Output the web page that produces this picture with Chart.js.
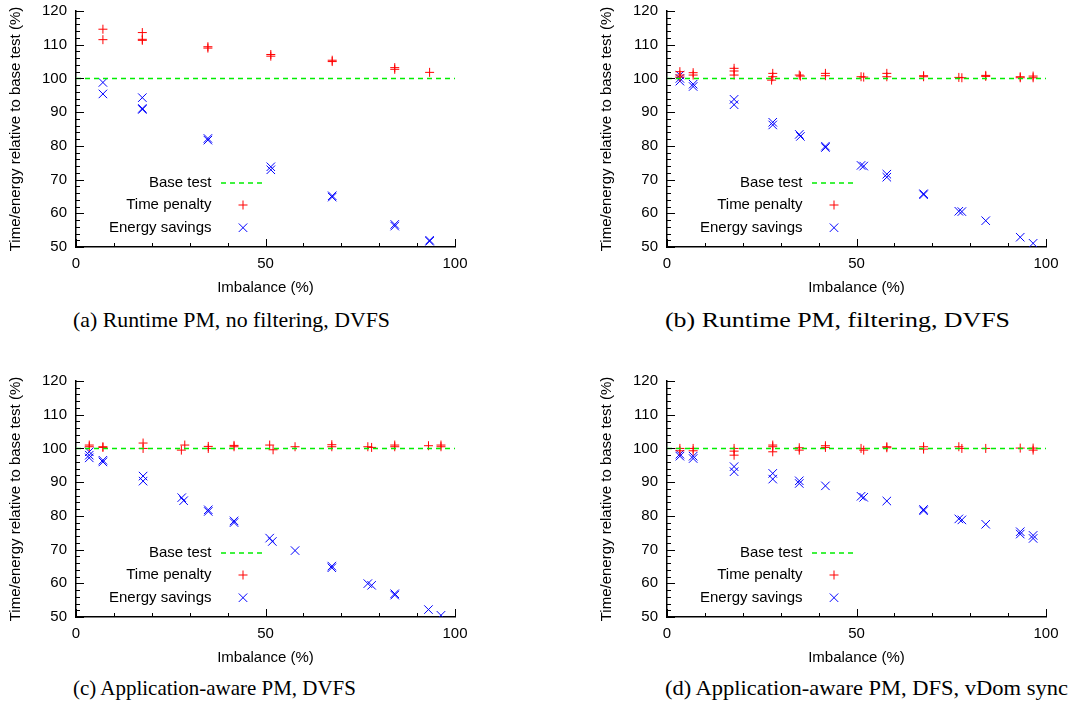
<!DOCTYPE html>
<html>
<head>
<meta charset="utf-8">
<script src="https://cdn.jsdelivr.net/npm/chart.js@4.4.1/dist/chart.umd.min.js"></script>
<style>
    html, body { margin: 0; padding: 0; background: #fff; }
    body { width: 1081px; height: 705px; position: relative; overflow: hidden; }
    .panel { position: absolute; width: 480px; height: 300px; }
    .caption {
        position: absolute;
        font-family: "Liberation Serif", "DejaVu Serif", serif;
        font-size: 21px;
        color: #000;
        white-space: nowrap;
        transform-origin: left center;
        line-height: 24px;
    }
</style>
</head>
<body>

<div class="panel" style="left:0px; top:0px;"><canvas id="chartA"></canvas></div>
<div class="panel" style="left:591px; top:0px;"><canvas id="chartB"></canvas></div>
<div class="panel" style="left:0px; top:370px;"><canvas id="chartC"></canvas></div>
<div class="panel" style="left:591px; top:370px;"><canvas id="chartD"></canvas></div>

<div class="caption" id="capA" style="left:73px; top:308px;"></div>
<div class="caption" id="capB" style="left:665px; top:308px;"></div>
<div class="caption" id="capC" style="left:73px; top:676px;"></div>
<div class="caption" id="capD" style="left:665px; top:676px;"></div>

<script>
// values: [imbalance %, value %]
const timeA = [[7.1, 114.6], [7.1, 111.5], [17.5, 113.6], [17.5, 111.6], [17.5, 111.3], [34.8, 109.4], [34.8, 109.0],
    [51.4, 107.1], [51.4, 106.6], [67.6, 105.4], [67.6, 105.0], [84.1, 103.2], [84.1, 102.7], [93.3, 101.8]];
const energyA = [[7.1, 98.8], [7.1, 95.4], [17.5, 94.3], [17.5, 91.1], [17.5, 90.8], [34.8, 82.2], [34.8, 81.7],
    [51.4, 73.8], [51.4, 72.9], [67.6, 65.2], [67.6, 64.8], [84.1, 56.7], [84.1, 56.2], [93.3, 52.0], [93.3, 51.7]];

const timeB = [[3.4, 102.0], [3.4, 101.0], [3.4, 100.4], [6.9, 101.7], [6.9, 101.0], [17.7, 103.0], [17.7, 102.2], [17.7, 101.0],
    [27.9, 101.5], [27.9, 100.5], [27.6, 99.5], [34.9, 101.0], [35.2, 100.7], [41.8, 101.5], [41.8, 100.8], [51.2, 100.5],
    [51.9, 100.4], [58.0, 101.5], [58.0, 100.5], [67.7, 100.8], [67.7, 100.5], [77.0, 100.3], [77.8, 100.2], [84.1, 100.9],
    [84.1, 100.6], [93.2, 100.5], [93.2, 100.2], [96.6, 100.7], [96.6, 100.2]];
const energyB = [[3.4, 101.0], [3.4, 100.0], [3.4, 99.2], [6.9, 98.3], [6.9, 97.6], [17.7, 93.8], [17.7, 92.2], [27.9, 87.0],
    [27.9, 86.2], [34.9, 83.4], [35.2, 82.8], [41.8, 79.9], [41.8, 79.5], [51.2, 74.2], [51.9, 74.0], [58.0, 71.6], [58.0, 70.7],
    [67.7, 65.8], [67.7, 65.5], [77.0, 60.6], [77.8, 60.5], [84.1, 57.8], [93.2, 52.9], [96.6, 51.1]];

const timeC = [[3.5, 101.0], [3.5, 100.5], [7.1, 100.5], [7.1, 100.3], [17.7, 101.6], [17.7, 100.0], [27.8, 99.5], [28.7, 101.0],
    [34.9, 100.6], [34.9, 100.0], [41.7, 100.9], [41.7, 100.5], [51.1, 101.0], [52.0, 99.6], [57.8, 100.5], [67.5, 101.1],
    [67.5, 100.5], [77.0, 100.5], [78.0, 100.3], [84.1, 101.0], [84.1, 100.5], [93.0, 100.8], [96.3, 101.0], [96.3, 100.5]];
const energyC = [[3.5, 99.0], [3.5, 98.0], [3.5, 97.2], [7.1, 96.5], [7.1, 96.0], [17.7, 91.8], [17.7, 90.3], [27.9, 85.4],
    [28.4, 84.5], [34.9, 81.8], [34.9, 81.3], [41.7, 78.5], [41.7, 78.0], [51.1, 73.4], [51.8, 72.4], [57.8, 69.7], [67.5, 65.1],
    [67.5, 64.6], [77.0, 59.9], [78.0, 59.4], [84.1, 56.9], [84.1, 56.5], [93.0, 52.2], [96.3, 50.5]];

const timeD = [[3.4, 100.0], [3.4, 99.3], [6.9, 100.0], [6.9, 99.3], [17.7, 100.0], [17.7, 99.2], [17.7, 98.0], [27.9, 101.0],
    [27.9, 100.5], [27.9, 99.0], [34.9, 100.2], [34.9, 99.5], [41.8, 100.8], [41.8, 100.3], [51.2, 100.0], [51.9, 99.5],
    [58.0, 100.5], [58.0, 100.2], [67.7, 100.5], [67.7, 99.8], [77.0, 100.5], [77.8, 100.0], [84.1, 100.0], [93.2, 100.1],
    [96.6, 100.1], [96.6, 99.5]];
const energyD = [[3.4, 98.3], [3.4, 97.7], [6.9, 97.7], [6.9, 97.0], [17.7, 94.6], [17.7, 93.1], [27.9, 92.6], [27.9, 90.9],
    [34.9, 90.4], [34.9, 89.6], [41.8, 88.9], [51.2, 85.8], [51.9, 85.5], [58.0, 84.4], [67.7, 81.9], [67.7, 81.5], [77.0, 79.1],
    [77.8, 78.8], [84.1, 77.5], [93.2, 75.3], [93.2, 74.6], [96.6, 74.2], [96.6, 73.3]];

const baseLine = [[0, 100], [100, 100]];
const seriesLabels = ['Base test', 'Time penalty', 'Energy savings'];
const seriesColors = ['#00ee00', '#ff0000', '#0000ff'];
const captions = ['(a) Runtime PM, no filtering, DVFS', '(b) Runtime PM, filtering, DVFS',
    '(c) Application-aware PM, DVFS', '(d) Application-aware PM, DFS, vDom sync'];
const captionWidths = [317, 345, 283, 403];

const sansFont = '"Liberation Sans", Arial, Helvetica, sans-serif';
const dash = [5, 4];

const toPts = arr => arr.map(p => ({ x: p[0], y: p[1] }));

// gnuplot style ticks, pointing into the plot
const innerTicks = {
    id: 'innerTicks',
    afterDraw(chart) {
        const { ctx } = chart;
        const xs = chart.scales.x, ys = chart.scales.y;
        ctx.save();
        ctx.strokeStyle = '#000';
        ctx.lineWidth = 1;
        ctx.beginPath();
        for (let v = 50; v <= 120; v += 2) {
            const py = Math.round(ys.getPixelForValue(v)) + 0.5;
            const len = v % 10 === 0 ? 8 : 4;
            ctx.moveTo(xs.left, py);
            ctx.lineTo(xs.left + len, py);
        }
        for (let v = 0; v <= 100; v += 10) {
            const px = Math.round(xs.getPixelForValue(v)) + 0.5;
            const len = v % 50 === 0 ? 8 : 4;
            ctx.moveTo(px, ys.bottom);
            ctx.lineTo(px, ys.bottom - len);
        }
        ctx.stroke();
        ctx.restore();
    }
};

// legend drawn inside the plot area, text right aligned, sample on the right
const innerLegend = {
    id: 'innerLegend',
    afterDatasetsDraw(chart) {
        const { ctx, chartArea } = chart;
        const rows = [171.7, 194, 216.7];
        const styles = [null, 'cross', 'crossRot'];
        const radii = [0, 4.5, 6];
        ctx.save();
        ctx.font = '15px ' + sansFont;
        ctx.textAlign = 'right';
        ctx.textBaseline = 'middle';
        seriesLabels.forEach((label, i) => {
            const y = chartArea.top + rows[i];
            ctx.fillStyle = '#000';
            ctx.fillText(label, chartArea.left + 135.5, y);
            ctx.strokeStyle = seriesColors[i];
            ctx.lineWidth = 1;
            if (i === 0) {
                ctx.lineWidth = 1.5;
                ctx.setLineDash(dash);
                ctx.beginPath();
                ctx.moveTo(chartArea.left + 145, Math.round(y));
                ctx.lineTo(chartArea.left + 190, Math.round(y));
                ctx.stroke();
                ctx.setLineDash([]);
            } else {
                Chart.helpers.drawPoint(ctx, {
                    pointStyle: styles[i], radius: radii[i], borderWidth: 1, rotation: 0
                }, chartArea.left + 167, y);
            }
        });
        ctx.restore();
    }
};

function makeChart(id, timeData, energyData) {
    return new Chart(document.getElementById(id), {
        type: 'scatter',
        plugins: [innerTicks, innerLegend],
        data: {
            datasets: [
                { type: 'line', label: seriesLabels[0], data: toPts(baseLine), borderColor: seriesColors[0], borderWidth: 1.5,
                  borderDash: dash, pointRadius: 0, fill: false },
                { label: seriesLabels[1], data: toPts(timeData), borderColor: seriesColors[1], backgroundColor: seriesColors[1],
                  pointStyle: 'cross', pointRadius: 4.5, borderWidth: 1 },
                { label: seriesLabels[2], data: toPts(energyData), borderColor: seriesColors[2], backgroundColor: seriesColors[2],
                  pointStyle: 'crossRot', pointRadius: 6, borderWidth: 1 }
            ]
        },
        options: {
            responsive: false,
            animation: false,
            events: [],
            layout: { padding: { top: 11, right: 25, left: 0, bottom: 0 } },
            plugins: { legend: { display: false }, tooltip: { enabled: false } },
            scales: {
                x: {
                    type: 'linear', min: 0, max: 100,
                    grid: { display: false, drawTicks: false },
                    border: { color: '#000', width: 1.5 },
                    ticks: { stepSize: 50, color: '#000', padding: 8, maxRotation: 0, font: { size: 15, family: sansFont } },
                    title: { display: true, text: 'Imbalance (%)', color: '#000', padding: { top: 0, bottom: 3 },
                             font: { size: 15, family: sansFont } },
                    afterFit(s) {
                        s.height = 53;
                        s.paddingLeft = 0;
                        s.paddingRight = 0;
                    }
                },
                y: {
                    type: 'linear', min: 50, max: 120,
                    grid: { display: false, drawTicks: false },
                    border: { color: '#000', width: 1.5 },
                    ticks: { stepSize: 10, color: '#000', padding: 9, font: { size: 15, family: sansFont } },
                    title: { display: true, text: 'Time/energy relative to base test (%)', color: '#000',
                             padding: { top: 7, bottom: 0 }, font: { size: 15, family: sansFont } },
                    afterFit(s) {
                        s.width = 76;
                        s.paddingTop = 0;
                        s.paddingBottom = 0;
                    }
                }
            }
        }
    });
}

['chartA', 'chartB', 'chartC', 'chartD'].forEach(id => {
    const c = document.getElementById(id);
    c.width = 480;
    c.height = 300;
});

makeChart('chartA', timeA, energyA);
makeChart('chartB', timeB, energyB);
makeChart('chartC', timeC, energyC);
makeChart('chartD', timeD, energyD);

['capA', 'capB', 'capC', 'capD'].forEach((id, i) => {
    const el = document.getElementById(id);
    el.textContent = captions[i];
    const w = el.getBoundingClientRect().width;
    el.style.transform = 'scaleX(' + (captionWidths[i] / w).toFixed(3) + ')';
});
</script>
</body>
</html>
